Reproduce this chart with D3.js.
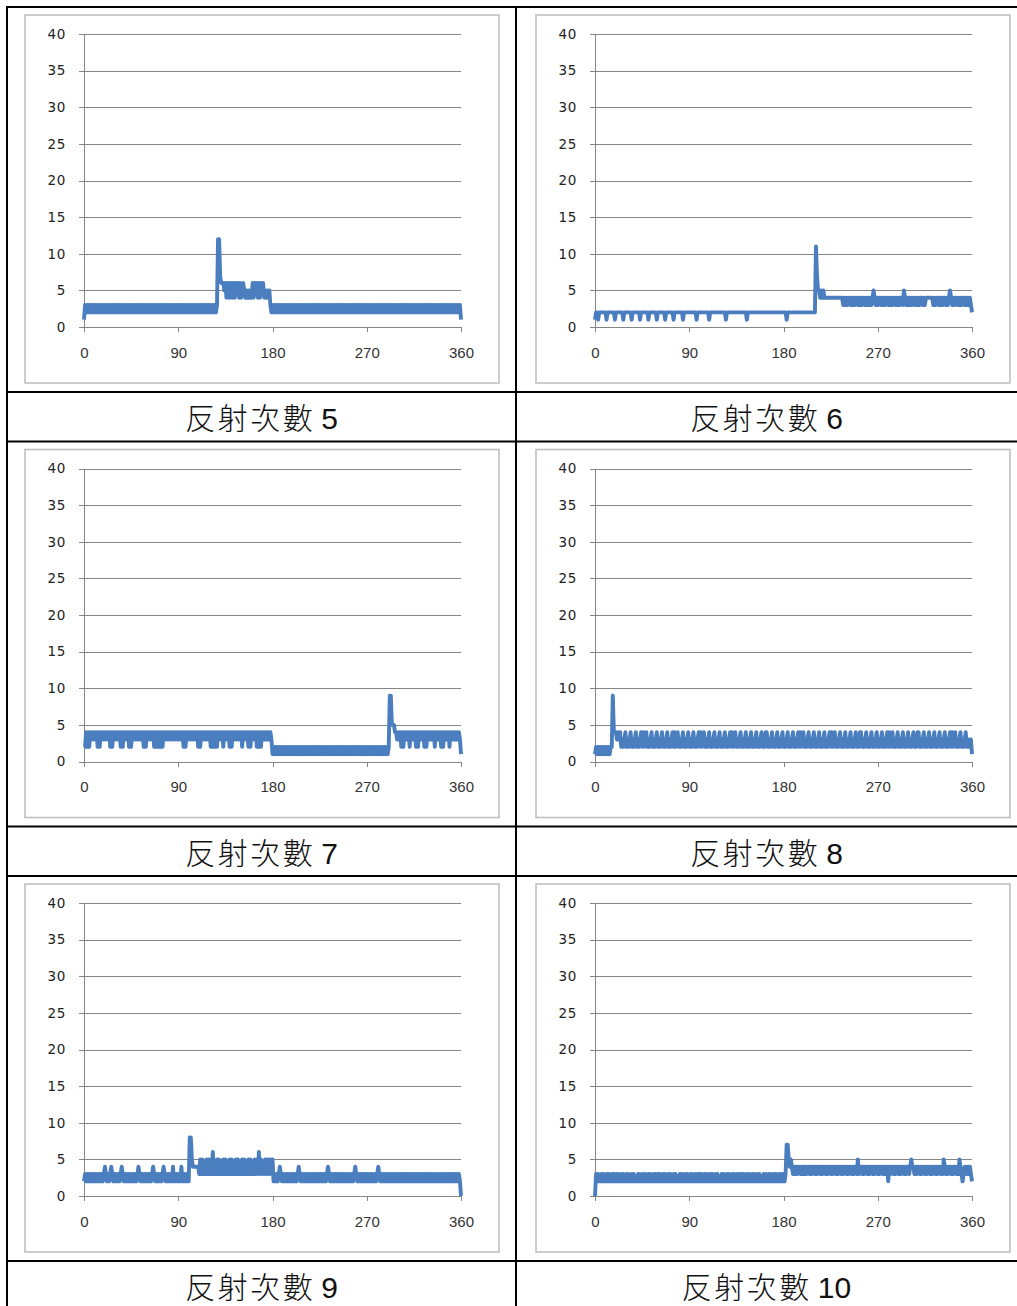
<!DOCTYPE html>
<html>
<head>
<meta charset="utf-8">
<script src="https://cdn.jsdelivr.net/npm/d3@7"></script>
<style>
    body { margin: 0; background: #fff; }
    .table-line { stroke: #000; stroke-width: 2; }
    .frame { fill: #fff; stroke: #bdbdbd; stroke-width: 1.5; }
    .axis path, .axis line, .grid-line { stroke: #858585; stroke-width: 1; shape-rendering: crispEdges; }
    .y.axis text { font-family: "DejaVu Sans", sans-serif; font-size: 13.5px; fill: #222; letter-spacing: 0.6px; }
    .x.axis text { font-family: "Liberation Sans", sans-serif; font-size: 15px; fill: #333; }
    .series { fill: none; stroke: #4a7ebf; stroke-width: 3.9; stroke-linejoin: round; }
    .caption { font-size: 30px; fill: #111; }
</style>
</head>
<body>
<script>
// angle in degrees, one sample per degree
const degrees = d3.range(0, 361);
const xTicks = [0, 90, 180, 270, 360];
const yTicks = [0, 5, 10, 15, 20, 25, 30, 35, 40];
const captionLabel = '反射次數';
const reflectCounts = [5, 6, 7, 8, 9, 10];

const reflect5 = [
    1,3,2,3,2,3,2,3,2,3,2,3,2,3,2,3,2,3,2,3,
    2,3,2,3,2,3,2,3,2,3,2,3,2,3,2,3,2,3,2,3,
    2,3,2,3,2,3,2,3,2,3,2,3,2,3,2,3,2,3,2,3,
    2,3,2,3,2,3,2,3,2,3,2,3,2,3,2,3,2,3,2,3,
    2,3,2,3,2,3,2,3,2,3,2,3,2,3,2,3,2,3,2,3,
    2,3,2,3,2,3,2,3,2,3,2,3,2,3,2,3,2,3,2,3,
    2,3,2,3,2,3,2,3,12,12,7,6,6,6,5,6,4,6,4,6,
    4,6,4,6,4,6,5,6,4,6,4,5,6,5,4,5,4,5,4,5,
    4,6,4,6,5,6,4,6,4,6,5,6,4,5,4,5,4,5,3,2,
    2,3,2,3,2,3,2,3,2,3,2,3,2,3,2,3,2,3,2,3,
    2,3,2,3,2,3,2,3,2,3,2,3,2,3,2,3,2,3,2,3,
    2,3,2,3,2,3,2,3,2,3,2,3,2,3,2,3,2,3,2,3,
    2,3,2,3,2,3,2,3,2,3,2,3,2,3,2,3,2,3,2,3,
    2,3,2,3,2,3,2,3,2,3,2,3,2,3,2,3,2,3,2,3,
    2,3,2,3,2,3,2,3,2,3,2,3,2,3,2,3,2,3,2,3,
    2,3,2,3,2,3,2,3,2,3,2,3,2,3,2,3,2,3,2,3,
    2,3,2,3,2,3,2,3,2,3,2,3,2,3,2,3,2,3,2,3,
    2,3,2,3,2,3,2,3,2,3,2,3,2,3,2,3,2,3,2,3,
    1
];

const reflect6 = [
    1,2,2,1,2,2,2,2,2,2,2,1,2,2,2,2,2,2,2,1,
    2,2,2,2,2,2,2,1,2,2,2,2,2,2,2,1,2,2,2,2,
    2,2,2,1,2,2,2,2,2,2,2,1,2,2,2,2,2,2,2,1,
    2,2,2,2,2,2,2,1,2,2,2,2,2,2,2,1,2,2,2,2,
    2,2,2,2,1,2,2,2,2,2,2,2,2,2,2,2,2,1,2,2,
    2,2,2,2,2,2,2,2,2,1,2,2,2,2,2,2,2,2,2,2,
    2,2,2,2,2,1,2,2,2,2,2,2,2,2,2,2,2,2,2,2,
    2,2,2,2,2,1,2,2,2,2,2,2,2,2,2,2,2,2,2,2,
    2,2,2,2,2,2,2,2,2,2,2,2,2,2,2,2,2,2,2,2,
    2,2,2,1,2,2,2,2,2,2,2,2,2,2,2,2,2,2,2,2,
    2,2,2,2,2,2,2,2,2,2,2,11,7,5,5,4,5,4,5,4,
    4,4,4,4,4,4,4,4,4,4,4,4,4,4,4,4,4,3,4,3,
    4,3,4,4,3,4,3,4,3,4,4,3,4,3,4,3,4,4,3,4,
    3,4,3,4,3,4,5,4,3,4,3,4,4,3,4,3,4,3,4,4,
    3,4,3,4,3,4,4,3,4,3,4,3,4,4,3,5,4,3,4,3,
    4,3,4,3,4,4,3,4,3,4,3,4,4,3,4,3,4,4,4,4,
    4,4,4,3,4,3,4,4,3,4,3,4,3,4,4,3,4,3,4,5,
    4,3,4,3,4,4,3,4,3,4,3,4,4,3,4,3,4,3,4,3,
    2
];

const reflect7 = [
    2,2,4,2,4,2,4,3,4,3,4,3,4,2,4,2,4,3,4,3,
    4,3,4,3,4,2,4,2,4,3,4,3,4,3,4,2,4,2,4,3,
    4,3,4,2,4,2,4,3,4,3,4,3,4,3,4,3,4,2,4,2,
    4,3,4,3,4,3,4,2,4,2,4,2,4,2,4,2,4,3,4,3,
    4,3,4,3,4,3,4,3,4,3,4,3,4,3,4,2,4,2,4,3,
    4,3,4,3,4,3,4,3,4,2,4,2,4,3,4,3,4,3,4,3,
    4,2,4,2,4,2,4,2,4,3,4,3,4,2,4,3,4,3,4,2,
    4,2,4,3,4,3,4,3,4,3,4,2,4,3,4,3,4,2,4,2,
    4,3,4,3,4,2,4,2,4,2,4,3,4,3,4,3,4,3,4,3,
    1,2,1,2,1,2,1,2,1,2,1,2,1,2,1,2,1,2,1,2,
    1,2,1,2,1,2,1,2,1,2,1,2,1,2,1,2,1,2,1,2,
    1,2,1,2,1,2,1,2,1,2,1,2,1,2,1,2,1,2,1,2,
    1,2,1,2,1,2,1,2,1,2,1,2,1,2,1,2,1,2,1,2,
    1,2,1,2,1,2,1,2,1,2,1,2,1,2,1,2,1,2,1,2,
    1,2,1,2,1,2,1,2,1,2,1,2,9,9,5,5,5,4,4,3,
    4,3,4,2,4,2,4,3,4,3,4,2,4,3,4,3,4,2,4,2,
    4,3,4,3,4,2,4,2,4,3,4,3,4,3,4,2,4,3,4,3,
    4,2,4,2,4,3,4,3,4,2,4,3,4,3,4,3,4,3,4,3,
    1
];

const reflect8 = [
    1,2,1,2,1,2,1,2,1,2,1,2,1,2,1,2,2,9,4,4,
    4,3,4,3,4,2,3,2,3,4,2,3,2,3,4,2,3,2,3,4,
    2,3,2,3,4,2,4,2,3,4,2,3,2,3,4,2,3,2,3,4,
    2,3,2,3,4,2,3,2,3,4,2,3,2,3,4,2,4,2,3,4,
    2,3,2,3,4,2,3,2,3,4,2,3,2,3,4,2,3,2,3,4,
    2,4,2,3,4,2,3,2,3,4,2,3,2,3,4,2,3,2,3,4,
    2,3,2,3,4,2,3,2,3,4,2,4,2,3,4,2,3,2,3,4,
    2,3,2,3,4,2,3,2,3,4,2,3,2,3,4,2,3,2,3,4,
    2,3,2,4,4,2,3,2,3,4,2,3,2,3,4,2,3,2,3,4,
    2,3,2,3,4,2,3,2,3,4,2,3,2,3,4,2,4,2,3,4,
    2,3,2,3,4,2,3,2,3,4,2,3,2,3,4,2,3,2,3,4,
    2,3,2,3,4,2,4,2,3,4,2,3,2,3,4,2,3,2,3,4,
    2,3,2,3,4,2,3,2,3,4,2,3,2,4,4,2,3,2,3,4,
    2,3,2,3,4,2,3,2,3,4,2,3,2,3,4,2,3,2,3,4,
    2,4,2,3,4,2,3,2,3,4,2,3,2,3,4,2,3,2,3,4,
    2,3,2,3,4,2,3,2,4,4,2,3,2,3,4,2,3,2,3,4,
    2,3,2,3,4,2,3,2,3,4,2,3,2,3,4,2,3,2,3,4,
    2,4,2,3,4,2,3,2,3,4,2,3,2,3,4,2,3,2,3,3,
    1
];

const reflect9 = [
    2,3,2,3,2,3,2,3,2,3,2,3,2,3,2,3,2,3,2,3,
    4,3,2,3,2,3,4,3,2,3,2,3,2,3,2,3,4,3,2,3,
    2,3,2,3,2,3,2,3,2,3,2,3,4,3,2,3,2,3,2,3,
    2,3,2,3,2,3,4,3,2,3,2,3,2,3,2,3,4,3,2,3,
    2,3,2,3,2,4,2,3,2,3,2,3,2,4,2,3,2,3,2,3,
    2,8,8,5,4,4,4,4,4,4,3,5,3,5,3,4,3,5,3,5,
    3,5,3,6,3,4,3,5,3,5,3,4,3,5,3,5,3,4,3,5,
    3,5,3,4,3,5,3,5,3,4,3,5,3,5,3,4,3,5,3,5,
    3,4,3,5,3,5,3,6,3,5,3,4,3,5,3,5,3,5,3,5,
    5,2,3,2,3,2,3,4,3,2,3,2,3,2,3,2,3,2,3,2,
    3,2,3,2,3,4,3,2,3,2,3,2,3,2,3,2,3,2,3,2,
    3,2,3,2,3,2,3,2,3,2,3,2,3,4,3,2,3,2,3,2,
    3,2,3,2,3,2,3,2,3,2,3,2,3,2,3,2,3,2,3,4,
    3,2,3,2,3,2,3,2,3,2,3,2,3,2,3,2,3,2,3,2,
    3,4,3,2,3,2,3,2,3,2,3,2,3,2,3,2,3,2,3,2,
    3,2,3,2,3,2,3,2,3,2,3,2,3,2,3,2,3,2,3,2,
    3,2,3,2,3,2,3,2,3,2,3,2,3,2,3,2,3,2,3,2,
    3,2,3,2,3,2,3,2,3,2,3,2,3,2,3,2,3,2,3,2,
    0
];

const reflect10 = [
    0,3,2,3,2,2,3,2,3,2,2,3,2,3,2,2,3,2,3,2,
    3,2,3,2,2,3,2,3,2,2,3,2,3,2,2,3,2,3,2,2,
    2,3,2,3,2,2,3,2,3,2,2,3,2,3,2,2,3,2,3,2,
    3,2,3,2,2,3,2,3,2,2,3,2,3,2,2,3,2,3,2,2,
    2,3,2,3,2,2,3,2,3,2,2,3,2,3,2,2,3,2,3,2,
    3,2,3,2,2,3,2,3,2,2,3,2,3,2,2,3,2,3,2,2,
    2,3,2,3,2,2,3,2,3,2,2,3,2,3,2,2,3,2,3,2,
    3,2,3,2,2,3,2,3,2,2,3,2,3,2,2,3,2,3,2,2,
    2,3,2,3,2,2,3,2,3,2,2,3,2,3,2,2,3,2,3,2,
    3,2,3,7,7,5,4,5,4,3,4,3,4,3,4,4,3,4,3,4,
    3,4,3,4,4,3,4,3,4,4,3,4,3,4,4,3,4,3,4,4,
    3,4,3,4,4,3,4,3,4,4,3,4,3,4,4,3,4,3,4,4,
    3,4,3,4,4,3,4,3,4,4,3,5,3,4,4,3,4,3,4,4,
    3,4,3,4,4,3,4,3,4,4,3,4,3,4,4,3,4,3,4,4,
    2,4,3,4,4,3,4,3,4,4,3,4,3,4,4,3,4,3,4,4,
    3,4,5,4,4,3,4,3,4,4,3,4,3,4,4,3,4,3,4,4,
    3,4,3,4,4,3,4,3,4,4,3,4,3,5,4,3,4,3,4,4,
    3,4,3,4,4,3,4,3,5,4,3,2,3,4,4,3,4,3,4,3,
    2
];

const seriesList = [reflect5, reflect6, reflect7, reflect8, reflect9, reflect10];

const pageWidth = 1017;
const pageHeight = 1306;
const colLeft = [7, 516];
const frameLeft = [25, 536];
const rowTop = [7, 441.5, 876];
const chartBand = 385;
const captionBand = 49.5;
const frameW = 474, frameH = 368;
const plotW = 377, plotH = 293;

const svg = d3.select('body').append('svg')
    .attr('width', pageWidth)
    .attr('height', pageHeight);

svg.append('rect').attr('width', pageWidth).attr('height', pageHeight).attr('fill', '#fff');

const x = d3.scaleLinear().domain([0, 360]).range([0, plotW]);
const y = d3.scaleLinear().domain([0, 40]).range([plotH, 0]);

function renderPanel(values, count, col, row) {
    const fx = frameLeft[col];
    const fy = rowTop[row] + 8;

    svg.append('rect')
        .attr('class', 'frame')
        .attr('x', fx)
        .attr('y', fy)
        .attr('width', frameW)
        .attr('height', frameH);

    const g = svg.append('g')
        .attr('transform', 'translate(' + (fx + 59) + ',' + (fy + 19) + ')');

    const yAxis = d3.axisLeft(y)
        .tickValues(yTicks)
        .tickSizeInner(-plotW)
        .tickSizeOuter(0)
        .tickPadding(18);
    g.append('g')
        .attr('class', 'y axis')
        .call(yAxis)
        .selectAll('.tick line')
        .classed('grid-line', true)
        .attr('x1', -5);

    const xAxis = d3.axisBottom(x)
        .tickValues(xTicks)
        .tickSize(5)
        .tickSizeOuter(0)
        .tickPadding(15);
    g.append('g')
        .attr('class', 'x axis')
        .attr('transform', 'translate(0,' + plotH + ')')
        .call(xAxis);

    g.selectAll('.axis .domain').attr('fill', 'none');
    g.selectAll('.axis text').attr('font-family', null).attr('font-size', null);

    const line = d3.line()
        .x((d, i) => x(degrees[i]))
        .y(d => y(d));

    g.append('path')
        .datum(values)
        .attr('class', 'series')
        .attr('d', line);

    const cx = col === 0 ? (colLeft[0] + colLeft[1]) / 2 : (colLeft[1] + pageWidth) / 2;
    const cap = svg.append('text')
        .attr('class', 'caption')
        .attr('x', cx)
        .attr('y', rowTop[row] + chartBand + 37)
        .attr('text-anchor', 'middle');
    cap.append('tspan')
        .attr('font-family', '"Noto Sans CJK TC", sans-serif')
        .attr('font-weight', 300)
        .attr('letter-spacing', '2.5px')
        .text(captionLabel);
    cap.append('tspan')
        .attr('font-family', '"Liberation Sans", Arial, sans-serif')
        .attr('dx', 6)
        .text(count);
}

seriesList.forEach((values, i) => {
    renderPanel(values, reflectCounts[i], i % 2, Math.floor(i / 2));
});

// table grid
const hLines = [];
rowTop.forEach(t => { hLines.push(t, t + chartBand, t + chartBand + captionBand); });
const uniq = Array.from(new Set(hLines.map(v => Math.round(v * 2) / 2)));
svg.selectAll('line.table-h')
    .data(uniq)
    .enter().append('line')
    .attr('class', 'table-line')
    .attr('x1', colLeft[0] - 1)
    .attr('x2', pageWidth + 2)
    .attr('y1', d => d)
    .attr('y2', d => d);

svg.selectAll('line.table-v')
    .data(colLeft)
    .enter().append('line')
    .attr('class', 'table-line')
    .attr('x1', d => d)
    .attr('x2', d => d)
    .attr('y1', rowTop[0] - 1)
    .attr('y2', pageHeight + 2);
</script>
</body>
</html>
